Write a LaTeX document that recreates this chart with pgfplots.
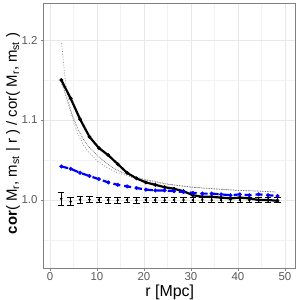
\documentclass[border=0pt]{standalone}
\usepackage{pgfplots}
\pgfplotsset{compat=1.18}
\usepackage{fontspec}
\setmainfont{Liberation Sans}
\begin{document}
\begin{tikzpicture}
\useasboundingbox (-43.5bp,-32bp) rectangle (256.5bp,268bp);
\begin{axis}[
 at={(0,0)}, anchor=south west,
 scale only axis, width=252.5bp, height=264bp,
 xmin=-1.38, xmax=52.34, ymin=0.915, ymax=1.245,
 xtick={0,10,...,50}, ytick={1.0,1.1,1.2},
 minor xtick={5,15,...,45}, minor ytick={0.95,1.05,1.15},
 grid=both,
 major grid style={color=black!9, line width=0.6bp},
 minor grid style={color=black!5, line width=0.4bp},
 axis line style={color=black!50, line width=1bp},
 tick align=outside, tick pos=left,
 major tick length=2.5bp, minor tick length=0bp,
 tick style={color=black!50, line width=0.8bp},
 /pgf/number format/assume math mode=true,
 tick label style={font=\fontsize{11.5}{13}\selectfont, color=black!65},
 xticklabel style={inner sep=1.5bp},
 yticklabel style={/pgf/number format/.cd, fixed, fixed zerofill, precision=1},
 xlabel={r [Mpc]},
 ylabel={\textbf{cor}( M\textsubscript{r}, m\textsubscript{st} | r ) / cor( M\textsubscript{r}, m\textsubscript{st} )},
 xlabel style={font=\fontsize{16}{18}\selectfont, color=black, at={(axis description cs:0.5,0)}, anchor=base, yshift=-28.5bp},
 ylabel style={font=\fontsize{15}{17}\selectfont, color=black, at={(axis description cs:-0.105,0.51)}, anchor=base},
]
% error bars
\addplot[black, line width=0.6bp, only marks, mark=*, mark size=0.9bp,
  error bars/.cd, y dir=both, y explicit,
  error bar style={line width=0.6bp, black},
  error mark options={rotate=90, mark size=3.2bp, line width=0.6bp, black}]
 coordinates {
 (2.4,1.0015) +- (0,0.0077)
 (4.4,0.998) +- (0,0.005)
 (6.4,1.0005) +- (0,0.004)
 (8.4,1.0005) +- (0,0.0038)
 (10.4,1.0003) +- (0,0.0036)
 (12.4,1.0) +- (0,0.0035)
 (14.4,0.9998) +- (0,0.0034)
 (16.4,1.0003) +- (0,0.0033)
 (18.4,0.9998) +- (0,0.0033)
 (20.4,1.0002) +- (0,0.0032)
 (22.4,1.0) +- (0,0.0032)
 (24.4,0.9998) +- (0,0.0031)
 (26.4,1.0002) +- (0,0.0031)
 (28.4,1.0) +- (0,0.0031)
 (30.4,0.9998) +- (0,0.003)
 (32.4,1.0002) +- (0,0.003)
 (34.4,1.0) +- (0,0.003)
 (36.4,0.9998) +- (0,0.003)
 (38.4,1.0002) +- (0,0.003)
 (40.4,1.0) +- (0,0.003)
 (42.4,0.9998) +- (0,0.003)
 (44.4,1.0) +- (0,0.003)
 (46.4,0.9998) +- (0,0.003)
 (48.4,1.0) +- (0,0.003)
 };
% steep dotted reference
\addplot[color=black!55, dotted, line width=0.7bp] coordinates {
 (2.5,1.196) (3,1.163) (3.5,1.140) (4,1.1225) (5,1.098) (6,1.082) (7,1.070)
 (8,1.061) (10,1.049) (12,1.041) (14,1.035) (16,1.031) (18,1.027) (20,1.0245)
 (25,1.0196) (30,1.0163) (35,1.014) (40,1.012) (45,1.011) (48,1.010)
 };
% second thin reference
\addplot[color=black!60, densely dotted, line width=0.7bp] coordinates {
 (2.5,1.145) (3,1.138) (4,1.118) (5,1.102) (6,1.088) (7,1.077) (8,1.068)
 (10,1.056) (12,1.046) (14,1.038) (16,1.033) (18,1.029) (20,1.026)
 (25,1.020) (30,1.016) (35,1.014) (40,1.012) (45,1.011) (48,1.010)
 };
% black solid
\addplot[black, line width=2.2bp, mark=*, mark size=1.8bp, mark options={line width=0.3bp}] coordinates {
 (2.4,1.150) (4.4,1.127) (6.4,1.101) (8.4,1.079) (10.4,1.065) (12.4,1.056)
 (14.4,1.045) (16.4,1.034) (18.4,1.027) (20.4,1.022) (22.4,1.019) (24.4,1.016)
 (26.4,1.014) (28.4,1.011) (30.4,1.006) (32.4,1.004) (34.4,1.004) (36.4,1.003)
 (38.4,1.002) (40.4,1.003) (42.4,1.002) (44.4,1.000) (46.4,1.000) (48.4,0.999)
 };
% blue dashed
\addplot[color={rgb,255:red,0;green,0;blue,255}, line width=2.2bp, dash pattern=on 7bp off 4bp,
  mark=*, mark size=1.9bp, mark options={solid, line width=0.3bp}] coordinates {
 (2.4,1.042) (4.4,1.039) (6.4,1.034) (8.4,1.030) (10.4,1.026) (12.4,1.022)
 (14.4,1.019) (16.4,1.017) (18.4,1.015) (20.4,1.013) (22.4,1.012) (24.4,1.012)
 (26.4,1.011) (28.4,1.010) (30.4,1.009) (32.4,1.008) (34.4,1.008) (36.4,1.007)
 (38.4,1.006) (40.4,1.007) (42.4,1.006) (44.4,1.007) (46.4,1.006) (48.4,1.005)
 };
\end{axis}
\end{tikzpicture}
\end{document}
